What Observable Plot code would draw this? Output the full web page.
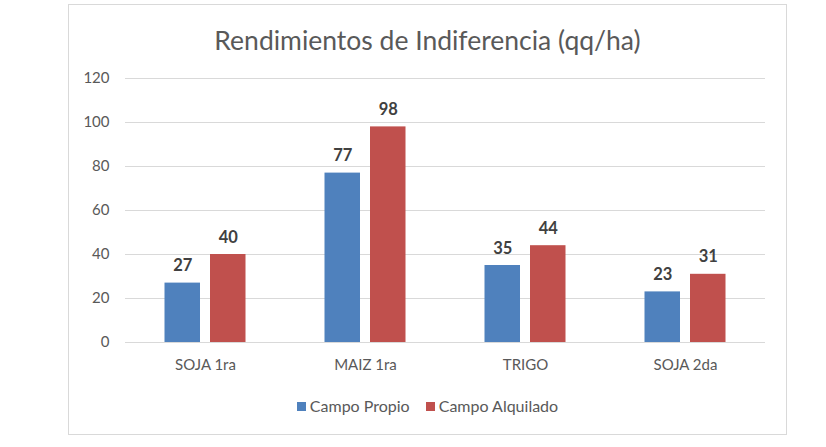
<!DOCTYPE html>
<html><head><meta charset="utf-8">
<script src="https://cdn.jsdelivr.net/npm/d3@7"></script>
<script src="https://cdn.jsdelivr.net/npm/@observablehq/plot@0.6"></script>
<style>
body{margin:0;background:#fff;font-family:Lato,"Open Sans",sans-serif;}
#chart{position:absolute;left:68px;top:4px;width:717px;height:429px;border:1px solid #d9d9d9;background:#fff;}
#title{height:30px;line-height:30px;padding-top:20px;text-align:center;font-size:26.5px;color:#595959;white-space:nowrap;}
#legend{margin-top:11px;height:20px;line-height:20px;text-align:center;font-size:16px;color:#595959;white-space:nowrap;}
.sw{display:inline-block;width:9px;height:9px;margin-right:4px;vertical-align:middle;position:relative;top:-1px;}
.item{margin:0 8px;}
svg text{font-size:15px;}
svg g[aria-label="text"] text{font-size:16.5px;}
</style></head><body>
<div id="chart"><div id="title">Rendimientos de Indiferencia (qq/ha)</div><div id="plot"></div><div id="legend"></div></div>
<script>
const categories = ["SOJA 1ra","MAIZ 1ra","TRIGO","SOJA 2da"];
const series = ["Campo Propio","Campo Alquilado"];
const propio = [27,77,35,23];
const alquilado = [40,98,44,31];
const colors = ["#4F81BD","#C0504D"];
const yTicks = [0,20,40,60,80,100,120];

const data = categories.flatMap((c,i)=>[
  {cat:c, serie:series[0], value:propio[i]},
  {cat:c, serie:series[1], value:alquilado[i]}
]);

const chart = Plot.plot({
  width: 717, height: 330,
  marginLeft: 56, marginRight: 21, marginTop: 23, marginBottom: 43,
  style: {fontFamily: "Lato, 'Open Sans', sans-serif", fontSize: "15px", color: "#595959", background: "transparent"},
  fx: {domain: categories, padding: 0, round: false, label: null, axis: "bottom", tickSize: 0, tickPadding: 17},
  x: {domain: series, paddingInner: 0.22, paddingOuter: 0.868, round: false, axis: null},
  y: {domain: [0,120], ticks: yTicks, tickSize: 0, tickPadding: 16, label: null},
  color: {domain: series, range: colors},
  marks: [
    Plot.ruleY(yTicks, {stroke: "#d9d9d9", strokeWidth: 1}),
    Plot.barY(data, {fx: "cat", x: "serie", y: "value", fill: "serie"}),
    Plot.text(data, {fx: "cat", x: "serie", y: "value", text: d => String(d.value), dy: -12, lineAnchor: "bottom", fontWeight: "bold", fontSize: 16.5, fill: "#404040"})
  ]
});
document.getElementById("plot").appendChild(chart);

const legend = document.getElementById("legend");
series.forEach((s,i)=>{
  const span = document.createElement("span");
  span.className = "item";
  const sw = document.createElement("span");
  sw.className = "sw"; sw.style.background = colors[i];
  span.appendChild(sw);
  span.appendChild(document.createTextNode(s));
  legend.appendChild(span);
});
</script>
</body></html>
